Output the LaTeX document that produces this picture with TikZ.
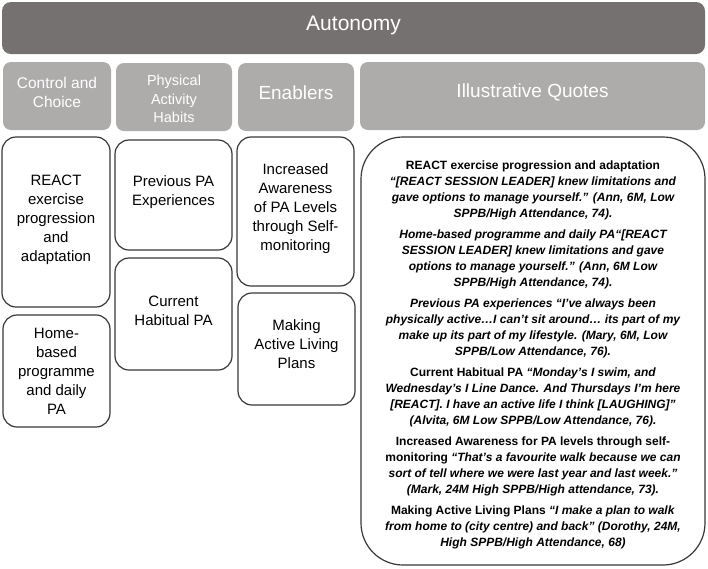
\documentclass[tikz,border=0pt]{standalone}
\usepackage{fontspec}
\setmainfont{Liberation Sans}
\definecolor{darkhdr}{HTML}{767171}
\definecolor{lighthdr}{HTML}{AEABAB}
\definecolor{edgec}{HTML}{383838}
\tikzset{
  topbar/.style={fill=darkhdr, rounded corners=9pt, inner sep=0pt},
  hdr/.style={fill=lighthdr, rounded corners=8pt, inner sep=0pt},
  hdrtext/.style={text=white, align=center, inner sep=0pt},
  cell/.style={draw=edgec, line width=1.2pt, fill=white, rounded corners=14pt, inner sep=0pt},
  celltext/.style={align=center, inner sep=0pt, font=\fontsize{15}{19}\selectfont},
  quotebox/.style={draw=edgec, line width=1.2pt, fill=white, rounded corners=42pt, inner sep=0pt},
  quotetext/.style={align=center, inner sep=0pt, font=\fontsize{12}{15.7}\selectfont\bfseries}
}
\begin{document}
\begin{tikzpicture}[x=1pt,y=-1pt]
\useasboundingbox[fill=white] (0,0) rectangle (708,568);
% top bar
\node[topbar, minimum width=703pt, minimum height=52pt] (auto) at (353.5,28) {};
\node[hdrtext, font=\fontsize{21}{25}\selectfont] (autot) at ([yshift=2.5pt]auto.center) {Autonomy};
% column headers
\node[hdr, minimum width=108pt, minimum height=68pt] (h1) at (57,96) {};
\node[hdrtext, font=\fontsize{15.5}{19}\selectfont] (h1t) at ([yshift=4pt]h1.center) {Control and\\Choice};
\node[hdr, minimum width=116pt, minimum height=68pt] (h2) at (174,97) {};
\node[hdrtext, font=\fontsize{14.5}{18.5}\selectfont] (h2t) at ([yshift=-2pt]h2.center) {Physical\\Activity\\Habits};
\node[hdr, minimum width=116pt, minimum height=68pt] (h3) at (296,97) {};
\node[hdrtext, font=\fontsize{19}{23}\selectfont] (h3t) at ([yshift=4pt]h3.center) {Enablers};
\node[hdr, minimum width=345pt, minimum height=68pt] (h4) at (532.5,96) {};
\node[hdrtext, font=\fontsize{19}{23}\selectfont] (h4t) at ([yshift=4pt]h4.center) {Illustrative Quotes};
% theme boxes
\node[cell, minimum width=108pt, minimum height=170pt] (b1) at (56,222) {};
\node[celltext] (b1t) at ([yshift=2pt]b1.center) {REACT\\exercise\\progression\\and\\adaptation};
\node[cell, minimum width=107pt, minimum height=112pt] (b2) at (56.5,371) {};
\node[celltext] (b2t) at (b2.center) {Home-\\based\\programme\\and daily\\PA};
\node[cell, minimum width=117pt, minimum height=110pt] (b3) at (173.5,195) {};
\node[celltext] (b3t) at ([yshift=3pt]b3.center) {Previous PA\\Experiences};
\node[cell, minimum width=117pt, minimum height=112pt] (b4) at (173.5,314) {};
\node[celltext] (b4t) at ([yshift=3.5pt]b4.center) {Current\\Habitual PA};
\node[cell, minimum width=117pt, minimum height=149pt] (b5) at (295.5,211.5) {};
\node[celltext] (b5t) at ([yshift=3pt]b5.center) {Increased\\Awareness\\of PA Levels\\through Self-\\monitoring};
\node[cell, minimum width=117pt, minimum height=112pt] (b6) at (296.5,349) {};
\node[celltext] (b6t) at ([yshift=4.5pt]b6.center) {Making\\Active Living\\Plans};
% quotes
\node[quotebox, minimum width=344pt, minimum height=428pt] (q) at (533,351) {};
\node[quotetext] (qt) at ([yshift=-4pt]q.center) {%
REACT exercise progression and adaptation\\
\itshape “[REACT SESSION LEADER] knew limitations and\\
\itshape gave options to manage yourself.” (Ann, 6M, Low\\
\itshape SPPB/High Attendance, 74).\\[6.2pt]
\itshape Home-based programme and daily PA“[REACT\\
\itshape SESSION LEADER] knew limitations and gave\\
\itshape options to manage yourself.” (Ann, 6M Low\\
\itshape SPPB/High Attendance, 74).\\[6.2pt]
\itshape Previous PA experiences “I’ve always been\\
\itshape physically active…I can’t sit around… its part of my\\
\itshape make up its part of my lifestyle. (Mary, 6M, Low\\
\itshape SPPB/Low Attendance, 76).\\[6.2pt]
Current Habitual PA \textit{“Monday’s I swim, and}\\
\itshape Wednesday’s I Line Dance. And Thursdays I’m here\\
\itshape [REACT]. I have an active life I think [LAUGHING]”\\
\itshape (Alvita, 6M Low SPPB/Low Attendance, 76).\\[6.2pt]
Increased Awareness for PA levels through self-\\
monitoring \textit{“That’s a favourite walk because we can}\\
\itshape sort of tell where we were last year and last week.”\\
\itshape (Mark, 24M High SPPB/High attendance, 73).\\[6.2pt]
Making Active Living Plans \textit{“I make a plan to walk}\\
\itshape from home to (city centre) and back” (Dorothy, 24M,\\
\itshape High SPPB/High Attendance, 68)};
\end{tikzpicture}
\end{document}
